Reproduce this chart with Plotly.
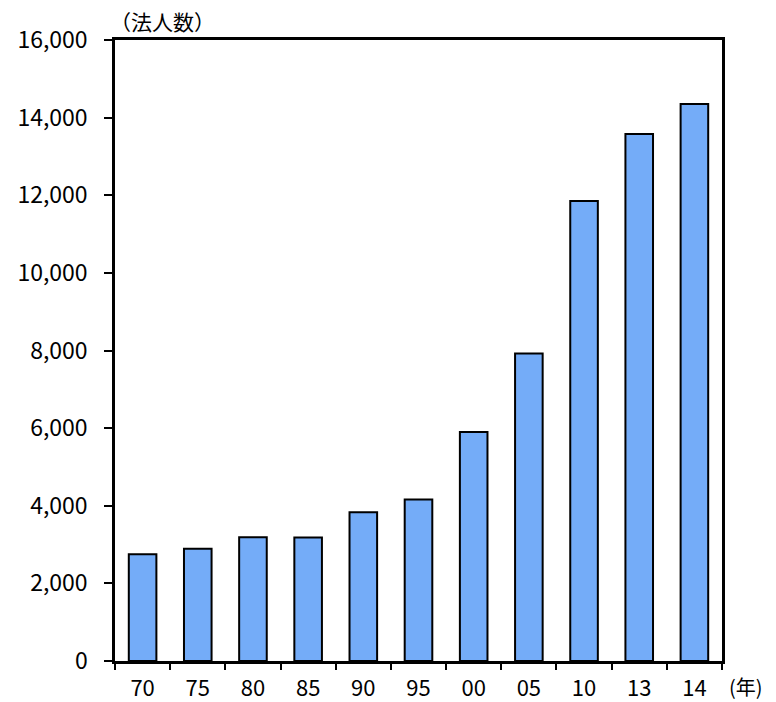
import plotly.graph_objects as go

years = ["70", "75", "80", "85", "90", "95", "00", "05", "10", "13", "14"]
counts = [2750, 2890, 3190, 3180, 3830, 4160, 5900, 7920, 11850, 13580, 14350]
y_ticks = [0, 2000, 4000, 6000, 8000, 10000, 12000, 14000, 16000]

FONT = "Noto Sans CJK JP"

fig = go.Figure()
fig.add_trace(go.Bar(
    x=years, y=counts,
    marker=dict(color="#74ACF8", line=dict(color="black", width=2)),
    hoverinfo="skip",
))

fig.update_layout(
    width=776, height=702,
    margin=dict(l=115, r=54, t=40, b=41, autoexpand=False),
    paper_bgcolor="white", plot_bgcolor="white",
    bargap=0.5,
    showlegend=False,
    font=dict(family=FONT, color="black", size=22),
)
fig.update_xaxes(
    type="category", tickson="boundaries", automargin=False,
    ticks="outside", ticklen=6, tickwidth=2, tickcolor="black",
    showline=True, linecolor="black", linewidth=2.5, mirror=True,
    showgrid=False, tickfont=dict(size=22, family=FONT),
    ticklabelstandoff=6,
)
fig.update_yaxes(
    range=[0, 16000], tickvals=y_ticks, tickformat=",", automargin=False,
    ticks="outside", ticklen=8, tickwidth=2, tickcolor="black",
    showline=True, linecolor="black", linewidth=2.5, mirror=True,
    showgrid=False, zeroline=False, tickfont=dict(size=23, family=FONT),
    ticklabelstandoff=12,
)
fig.add_annotation(text="（法人数）", xref="paper", yref="paper",
                   x=-0.012, y=1.0, xanchor="left", yanchor="bottom",
                   yshift=2, showarrow=False, font=dict(size=21, family=FONT))
fig.add_annotation(text="(年)", xref="paper", yref="paper",
                   x=1.0, y=0, xanchor="left", yanchor="middle",
                   xshift=6, yshift=-25, showarrow=False, borderpad=0,
                   font=dict(size=20, family=FONT))

fig.write_html("out.html")
